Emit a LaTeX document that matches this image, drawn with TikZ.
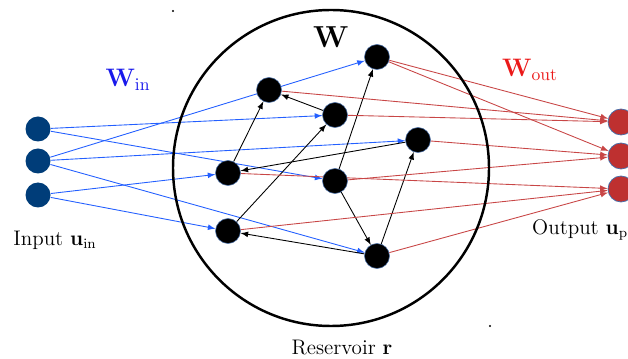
\documentclass[tikz,border=0pt]{standalone}
\usetikzlibrary{backgrounds}
\definecolor{inblu}{RGB}{0,61,121}
\definecolor{lineablu}{RGB}{35,95,255}
\definecolor{outrosso}{RGB}{190,48,48}
\definecolor{linearossa}{RGB}{200,70,70}
\definecolor{wrosso}{RGB}{235,25,25}
\definecolor{wblu}{RGB}{25,25,235}
\definecolor{bordo}{RGB}{70,110,170}
\begin{document}
\begin{tikzpicture}[
        ingr/.style={circle,fill=inblu,minimum size=0.5cm,inner sep=0pt},
        neur/.style={circle,fill=black,draw=bordo,line width=0.3pt,minimum size=0.5cm,inner sep=0pt},
        usc/.style={circle,fill=outrosso,draw=bordo,line width=0.4pt,minimum size=0.52cm,inner sep=0pt},
        win/.style={-latex,lineablu,line width=0.5pt},
        wres/.style={-latex,black,line width=0.5pt},
        wout/.style={-latex,linearossa,line width=0.5pt}]
        \useasboundingbox (0,0) rectangle (12.56,7.16);

        %serbatoio
        \draw[line width=1.4pt] (6.62,3.80) circle (3.16);
        \node (w) at (6.62,6.42) {\LARGE $\mathbf{W}$};
        \node (lres) at (6.84,0.20) {\large Reservoir $\mathbf{r}$};

        %nodi
        \node[ingr] (i1) at (0.76,4.58) {};
        \node[ingr] (i2) at (0.76,3.94) {};
        \node[ingr] (i3) at (0.76,3.26) {};
        \node[neur] (a) at (7.54,6.02) {};
        \node[neur] (b) at (5.38,5.36) {};
        \node[neur] (c) at (6.70,4.86) {};
        \node[neur] (d) at (8.36,4.36) {};
        \node[neur] (e) at (4.56,3.70) {};
        \node[neur] (f) at (6.70,3.54) {};
        \node[neur] (g) at (4.56,2.54) {};
        \node[neur] (h) at (7.54,2.04) {};
        \node[usc] (o1) at (12.42,4.72) {};
        \node[usc] (o2) at (12.42,4.04) {};
        \node[usc] (o3) at (12.42,3.38) {};

        %label
        \node[wblu] (lwin) at (2.56,5.56) {\Large $\mathbf{W}_{\rm in}$};
        \node[wrosso] (lwout) at (10.60,5.76) {\Large $\mathbf{W}_{\rm out}$};
        \node (lin) at (1.10,2.36) {\large Input $\mathbf{u}_{\rm in}$};
        \node[anchor=west] (lout) at (10.52,2.56) {\large Output $\mathbf{u}_{\rm p}$};
        \fill (3.46,6.94) circle (0.6pt);
        \fill (9.80,0.64) circle (0.6pt);

        \begin{pgfonlayer}{background}
        %ingresso
        \draw[win] (i1)--(c);
        \draw[win] (i1)--(f);
        \draw[win] (i2)--(a);
        \draw[win] (i2)--(d);
        \draw[win] (i2)--(h);
        \draw[win] (i3)--(e);
        \draw[win] (i3)--(g);
        %interno
        \draw[wres] (e)--(b);
        \draw[wres] (c)--(b);
        \draw[wres] (g)--(c);
        \draw[wres] (f)--(a);
        \draw[wres] (d)--(e);
        \draw[wres] (h)--(d);
        \draw[wres] (f)--(h);
        \draw[wres] (h)--(g);
        %uscita
        \draw[wout] (a)--(o1);
        \draw[wout] (a)--(o2);
        \draw[wout] (b)--(o1);
        \draw[wout] (c)--(o1);
        \draw[wout] (d)--(o2);
        \draw[wout] (f)--(o2);
        \draw[wout] (e)--(o3);
        \draw[wout] (g)--(o3);
        \draw[wout] (h)--(o3);
        \end{pgfonlayer}
    \end{tikzpicture}
\end{document}
